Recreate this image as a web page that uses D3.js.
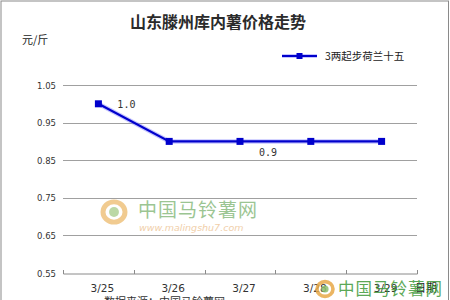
<!DOCTYPE html>
<html>
<head>
<meta charset="utf-8">
<script src="https://cdn.jsdelivr.net/npm/d3@7"></script>
<style>
  html, body { margin: 0; padding: 0; background: #fff; }
  svg { display: block; }
</style>
</head>
<body>
<svg id="chart" width="450" height="300"></svg>
<script>
// Price series (yuan per jin)
const dates = ["3/25", "3/26", "3/27", "3/28", "3/29"];
const prices = [1.0, 0.9, 0.9, 0.9, 0.9];
const yTicks = [0.55, 0.65, 0.75, 0.85, 0.95, 1.05];
const seriesName = "3两起步荷兰十五";
// Data labels: which point each label belongs to
const labelPoints = [0, 2];

const svg = d3.select("#chart");
const W = 450, H = 300;
const margin = { left: 63, right: 33, top: 85, bottom: 27 };

const cjk = "'Noto Sans CJK SC', 'Noto Sans', sans-serif";

// frame
svg.append("rect").attr("x", 1).attr("y", 1).attr("width", W - 2.5).attr("height", H + 5)
  .attr("fill", "#fff").attr("stroke", "#8a8a8a").attr("stroke-width", 1);

const x = d3.scaleBand().domain(dates).range([margin.left, W - margin.right]);
const y = d3.scaleLinear().domain([0.55, 1.05]).range([H - margin.bottom, margin.top]);

// title
svg.append("text").attr("x", 218).attr("y", 28).attr("text-anchor", "middle")
  .attr("font-family", cjk).attr("font-size", 16).attr("font-weight", "bold")
  .attr("fill", "#2b2b2b").text("山东滕州库内薯价格走势");

svg.append("text").attr("x", 22).attr("y", 44)
  .attr("font-family", cjk).attr("font-size", 11).attr("fill", "#222").text("元/斤");

// horizontal grid lines
svg.append("g").selectAll("line").data(yTicks.slice(1)).join("line")
  .attr("x1", margin.left).attr("x2", W - margin.right)
  .attr("y1", d => Math.round(y(d)) + 0.5).attr("y2", d => Math.round(y(d)) + 0.5)
  .attr("stroke", "#a0a0a0").attr("stroke-width", 1);

// y tick labels
svg.append("g").selectAll("text").data(yTicks).join("text")
  .attr("x", 56).attr("y", d => y(d) + 3.5).attr("text-anchor", "end")
  .attr("font-family", "'DejaVu Sans', sans-serif").attr("font-size", 8.5)
  .attr("fill", "#333").text(d => d.toFixed(2));

// x axis
const xAxis = d3.axisBottom(x).tickSize(0).tickFormat("");
const gx = svg.append("g").attr("transform", `translate(0,${Math.round(y(0.55)) + 0.5})`).call(xAxis);
gx.select(".domain").attr("stroke", "#8a8a8a");
// band boundary tick marks
const bounds = [margin.left].concat(dates.map(d => x(d) + x.bandwidth()));
svg.append("g").selectAll("line").data(bounds).join("line")
  .attr("x1", d => Math.round(d) + 0.5).attr("x2", d => Math.round(d) + 0.5)
  .attr("y1", Math.round(y(0.55)) - 3).attr("y2", Math.round(y(0.55)) + 1)
  .attr("stroke", "#8a8a8a");

svg.append("g").selectAll("text").data(dates).join("text")
  .attr("x", d => x(d) + x.bandwidth() / 2 + 4).attr("y", 292).attr("text-anchor", "middle")
  .attr("font-family", "'DejaVu Sans', sans-serif").attr("font-size", 10.5)
  .attr("fill", "#333").text(d => d);

svg.append("text").attr("x", 426).attr("y", 292).attr("text-anchor", "middle")
  .attr("font-family", cjk).attr("font-size", 11).attr("fill", "#222").text("日期");

// site watermark: logo ring + name + url
function watermark(gx0, gy0, o) {
  const g = svg.append("g").attr("transform", `translate(${gx0},${gy0})`).attr("opacity", o.op);
  g.append("ellipse").attr("cx", o.r + 3).attr("cy", o.r + 1).attr("rx", o.r).attr("ry", o.r * 0.92)
    .attr("fill", "none").attr("stroke", "#e8a948").attr("stroke-width", o.r * 0.45);
  g.append("circle").attr("cx", o.r + 3).attr("cy", o.r + 1).attr("r", o.r * 0.45).attr("fill", "#8fbf6a");
  g.append("text").attr("x", o.tx).attr("y", o.ty).attr("font-family", cjk).attr("font-size", o.fs)
    .attr("fill", o.green).attr("letter-spacing", 1).text("中国马铃薯网");
  g.append("text").attr("x", o.tx + 1).attr("y", o.ty + o.fs * 0.75).attr("font-family", "'DejaVu Sans', sans-serif")
    .attr("font-style", "italic").attr("font-size", 9.5).attr("fill", "#e8b070").text("www.malingshu7.com");
}
watermark(100, 200, { r: 11, tx: 38, ty: 17, fs: 19, op: 0.6, green: "#5aa04a" });

// bottom source note (clipped by the frame edge)
svg.append("text").attr("x", 104).attr("y", 306).attr("font-family", cjk).attr("font-size", 11)
  .attr("fill", "#333").text("数据来源：中国马铃薯网");

// series line with soft halo
const line = d3.line().x((d, i) => x(dates[i]) + x.bandwidth() / 2).y(d => y(d));
svg.append("path").datum(prices).attr("d", line).attr("fill", "none")
  .attr("stroke", "#8080ff").attr("stroke-width", 4.5).attr("opacity", 0.45);
svg.append("path").datum(prices).attr("d", line).attr("fill", "none")
  .attr("stroke", "#0000cc").attr("stroke-width", 2.2);
svg.append("g").selectAll("rect").data(prices).join("rect")
  .attr("x", (d, i) => x(dates[i]) + x.bandwidth() / 2 - 3.5)
  .attr("y", d => y(d) - 3.5).attr("width", 7).attr("height", 7).attr("fill", "#0000cc");

// data labels
svg.append("g").selectAll("text").data(labelPoints).join("text")
  .attr("x", i => x(dates[i]) + x.bandwidth() / 2 + 28)
  .attr("y", i => y(prices[i]) + (i === 0 ? 4 : 15))
  .attr("text-anchor", "middle")
  .attr("font-family", "'DejaVu Sans Mono', monospace").attr("font-size", 10)
  .attr("fill", "#333").text(i => prices[i].toFixed(1));

// lower-right watermark overlapping the axis labels
watermark(314, 280, { r: 8, tx: 24, ty: 15, fs: 16.5, op: 0.85, green: "#3f9a3a" });

// legend
const lg = svg.append("g").attr("transform", "translate(282,56)");
lg.append("line").attr("x1", 0).attr("x2", 35).attr("stroke", "#8080ff").attr("stroke-width", 4).attr("opacity", 0.45);
lg.append("line").attr("x1", 0).attr("x2", 35).attr("stroke", "#0000cc").attr("stroke-width", 2);
lg.append("rect").attr("x", 14.5).attr("y", -3).attr("width", 6).attr("height", 6).attr("fill", "#0000cc");
lg.append("text").attr("x", 43).attr("y", 4).attr("font-family", cjk).attr("font-size", 10.5)
  .attr("fill", "#222").text(seriesName);
</script>
</body>
</html>
